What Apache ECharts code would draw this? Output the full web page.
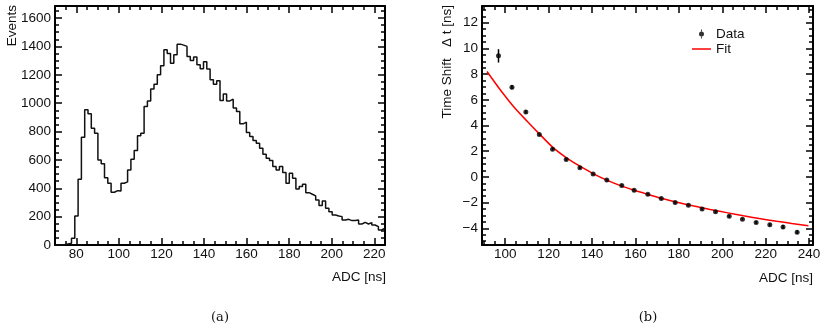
<!DOCTYPE html>
<html>
<head>
<meta charset="utf-8">
<script src="https://cdn.jsdelivr.net/npm/echarts@6/dist/echarts.min.js"></script>
<style>
html, body { margin: 0; padding: 0; background: #fff; }
#chart { width: 827px; height: 327px; }
</style>
</head>
<body>
<div id="chart"></div>
<script>
// (a) ADC spectrum, 100 bins from 70 to 225
var histMin = 70
var histMax = 225
var histCounts = [
    0, 0, 3, 8, 12, 47, 205, 463, 760, 953,
    925, 823, 788, 600, 572, 475, 435, 372, 383, 381,
    435, 445, 529, 605, 666, 770, 788, 976, 1016, 1099,
    1134, 1200, 1264, 1376, 1350, 1282, 1341, 1416, 1409, 1400,
    1329, 1301, 1325, 1270, 1242, 1292, 1240, 1165, 1134, 1158,
    1019, 1064, 1016, 1028, 965, 941, 854, 866, 793, 765,
    736, 718, 682, 640, 612, 595, 553, 529, 553, 511,
    435, 506, 471, 395, 412, 428, 369, 358, 346, 318,
    278, 311, 259, 235, 212, 205, 200, 176, 181, 172,
    172, 176, 148, 160, 148, 158, 141, 129, 106, 118
]
var histXTicks = [80, 100, 120, 140, 160, 180, 200, 220]
var histYTicks = [0, 200, 400, 600, 800, 1000, 1200, 1400, 1600]

// (b) time shift vs ADC
var pointX = [96.9, 103.1, 109.5, 115.7, 121.8, 128.1, 134.4, 140.5, 146.8, 153.7, 159.4, 165.7,
    171.9, 178.3, 184.4, 190.7, 196.9, 203.2, 209.3, 215.6, 221.9, 228.0, 234.5]
var pointY = [9.42, 6.98, 5.06, 3.3, 2.15, 1.36, 0.72, 0.23, -0.25, -0.67, -1.03, -1.35,
    -1.68, -2.0, -2.2, -2.49, -2.72, -3.06, -3.29, -3.55, -3.73, -3.89, -4.3]
var pointErr = [0.52, 0.15, 0.12, 0.1, 0.1, 0.1, 0.1, 0.1, 0.1, 0.1, 0.1, 0.1,
    0.1, 0.1, 0.1, 0.1, 0.1, 0.1, 0.1, 0.12, 0.12, 0.15, 0.15]
var fitX = [91.6, 97.7, 103.8, 110.0, 115.7, 121.8, 128.1, 134.2, 140.7, 146.8, 153.1, 159.4,
    165.7, 171.9, 179.1, 187.0, 194.4, 202.0, 209.8, 217.0, 225.1, 232.0, 239.7]
var fitY = [8.2, 6.78, 5.48, 4.35, 3.35, 2.32, 1.5, 0.85, 0.24, -0.25, -0.68, -1.04,
    -1.36, -1.66, -1.97, -2.27, -2.53, -2.78, -3.03, -3.24, -3.45, -3.62, -3.8]
var shiftXTicks = [100, 120, 140, 160, 180, 200, 220, 240]
var shiftYTicks = [-4, -2, 0, 2, 4, 6, 8, 10, 12]

var font = 'Liberation Sans'
var ink = '#111'

function steps (from, to, step) {
    var out = []
    for (var v = from; v <= to + 1e-9; v += step) out.push(Math.round(v * 100) / 100)
    return out
}

// four axes for one direction: major+labels, minor, and the mirrored pair on the far side
function frameAxes (grid, near, far, min, max, major, minor) {
    var list = []
    ;[near, far].forEach(function (pos, side) {
        ;[major, minor].forEach(function (ticks, k) {
            list.push({
                type: 'value',
                gridIndex: grid,
                position: pos,
                min: min,
                max: max,
                splitLine: { show: false },
                axisLine: { show: k === 0, onZero: false, lineStyle: { color: '#000', width: 2 } },
                axisTick: {
                    inside: true,
                    customValues: ticks,
                    length: k === 0 ? 7 : 4,
                    lineStyle: { color: '#000', width: 1.5 }
                },
                axisLabel: {
                    show: side === 0 && k === 0,
                    customValues: major,
                    margin: (near === 'bottom') ? 2 : 4,
                    fontFamily: font,
                    fontSize: 13.5,
                    color: ink,
                    formatter: function (v) { return String(v).replace('-', '\u2212') }
                }
            })
        })
    })
    return list
}

var xAxes = frameAxes(0, 'bottom', 'top', histMin, histMax, histXTicks, steps(70, 225, 5))
    .concat(frameAxes(1, 'bottom', 'top', 89.3, 241.8, shiftXTicks, steps(90, 240, 5)))
var yAxes = frameAxes(0, 'left', 'right', 0, 1685, histYTicks, steps(0, 1650, 50))
    .concat(frameAxes(1, 'left', 'right', -5.3, 13.3, shiftYTicks, steps(-5, 13, 0.5)))

var binWidth = (histMax - histMin) / histCounts.length
var histData = histCounts.map(function (c, i) { return [histMin + i * binWidth, c] })
histData.push([histMax, histCounts[histCounts.length - 1]])

var pointData = pointX.map(function (x, i) { return [x, pointY[i]] })
var errData = pointX.map(function (x, i) { return [x, pointY[i], pointErr[i]] })
var fitData = fitX.map(function (x, i) { return [x, fitY[i]] })

function title (text, x, y, opts) {
    return Object.assign({
        type: 'text',
        x: x,
        y: y,
        style: {
            text: text,
            fill: ink,
            fontFamily: font,
            fontSize: 13.5,
            align: 'right',
            textAlign: 'right',
            verticalAlign: 'middle',
            textVerticalAlign: 'middle'
        }
    }, opts || {})
}

function caption (text, x) {
    return {
        type: 'text', x: x, y: 318,
        style: { text: text, fill: ink, fontFamily: 'DejaVu Serif', fontSize: 13, align: 'center', textAlign: 'center', verticalAlign: 'middle', textVerticalAlign: 'middle' }
    }
}

var chart = echarts.init(document.getElementById('chart'))
chart.setOption({
    animation: false,
    backgroundColor: '#fff',
    grid: [
        { left: 55, top: 6, right: 442, bottom: 82 },
        { left: 482, top: 6, right: 14, bottom: 82 }
    ],
    xAxis: xAxes,
    yAxis: yAxes,
    legend: [
        {
            data: [{ name: 'Data', icon: 'path://M2.05,0L2.95,0L2.95,2.2L2.05,2.2Z M2.05,6.8L2.95,6.8L2.95,9L2.05,9Z M0,4.5A2.5,2.5,0,1,0,5,4.5A2.5,2.5,0,1,0,0,4.5Z' }],
            left: 694, top: 22, itemWidth: 5, itemHeight: 9,
            textStyle: { fontFamily: font, fontSize: 13.5, color: ink, padding: [0, 0, 0, 7] }
        },
        {
            data: [{ name: 'Fit', icon: 'rect' }],
            left: 687, top: 37, itemWidth: 19, itemHeight: 1.5,
            textStyle: { fontFamily: font, fontSize: 13.5, color: ink }
        }
    ],
    graphic: [
        title('Events', 12.5, 5, { rotation: Math.PI / 2 }),
        title('ADC [ns]', 386, 277),
        title('Time Shift   \u0394 t [ns]', 447.5, 5, { rotation: Math.PI / 2 }),
        title('ADC [ns]', 813, 278),
        caption('(a)', 220),
        caption('(b)', 648)
    ],
    series: [
        {
            name: 'ADC',
            type: 'line',
            xAxisIndex: 0,
            yAxisIndex: 0,
            step: 'end',
            symbol: 'none',
            lineStyle: { color: '#111', width: 1.5 },
            data: histData
        },
        {
            name: 'Fit',
            type: 'line',
            xAxisIndex: 4,
            yAxisIndex: 4,
            smooth: 0.3,
            symbol: 'none',
            color: '#ff0000',
            lineStyle: { color: '#ff0000', width: 1.5 },
            data: fitData
        },
        {
            name: 'Error',
            type: 'custom',
            xAxisIndex: 4,
            yAxisIndex: 4,
            renderItem: function (params, api) {
                var hi = api.coord([api.value(0), api.value(1) + api.value(2)])
                var lo = api.coord([api.value(0), api.value(1) - api.value(2)])
                return {
                    type: 'line',
                    shape: { x1: hi[0], y1: hi[1], x2: lo[0], y2: lo[1] },
                    style: { stroke: '#000', lineWidth: 1.5 }
                }
            },
            data: errData,
            z: 3
        },
        {
            name: 'Data',
            type: 'scatter',
            xAxisIndex: 4,
            yAxisIndex: 4,
            symbolSize: 5,
            color: '#000',
            itemStyle: { color: '#000' },
            data: pointData,
            z: 4
        }
    ]
})
</script>
</body>
</html>
